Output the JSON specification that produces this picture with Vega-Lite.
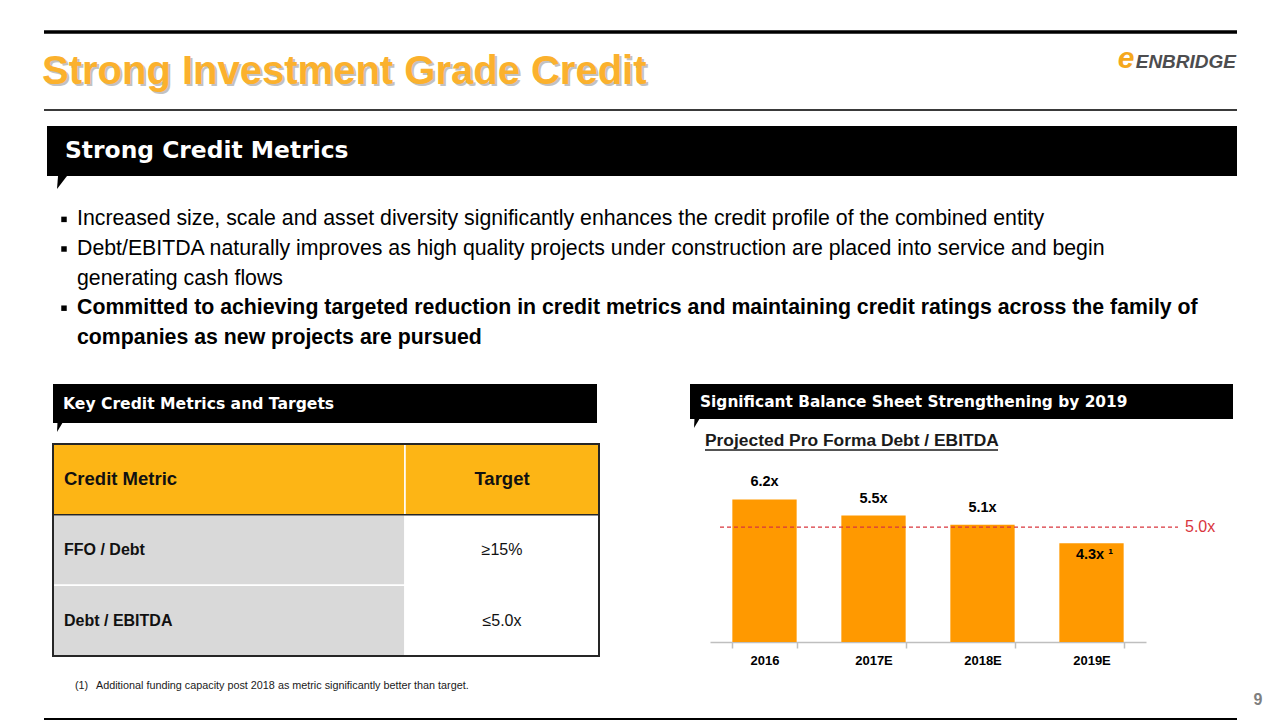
{
  "$schema": "https://vega.github.io/schema/vega-lite/v6.json",
  "background": "white",
  "padding": {"left": 42, "top": 30, "right": 0, "bottom": 0},
  "autosize": {"type": "pad"},
  "spacing": 0,
  "config": {
    "view": {"stroke": null},
    "font": "Liberation Sans"
  },
  "vconcat": [
    {
      "width": 1194,
      "height": 96,
      "layer": [
        {
          "data": {"values": [{"edge": "top"}]},
          "mark": {"type": "rule", "color": "#000000", "strokeWidth": 3.5},
          "encoding": {
            "x": {"datum": 2, "type": "quantitative", "scale": {"domain": [0, 1194], "nice": false}, "axis": null},
            "x2": {"datum": 1195},
            "y": {"datum": 2, "type": "quantitative", "scale": {"domain": [0, 96], "reverse": true, "nice": false}, "axis": null}
          }
        },
        {
          "data": {"values": [{"edge": "bottom"}]},
          "mark": {"type": "rule", "color": "#3A3A3A", "strokeWidth": 2},
          "encoding": {
            "x": {"datum": 2, "type": "quantitative", "scale": {"domain": [0, 1194], "nice": false}, "axis": null},
            "x2": {"datum": 1195},
            "y": {"datum": 80, "type": "quantitative", "scale": {"domain": [0, 96], "reverse": true, "nice": false}, "axis": null}
          }
        },
        {
          "data": {"values": [{"title": "Strong Investment Grade Credit"}]},
          "mark": {"type": "text", "align": "left", "baseline": "middle", "fontSize": 40, "fontWeight": "bold", "color": "#7A7A7A", "opacity": 0.45, "dx": 2, "dy": 2},
          "encoding": {
            "text": {"field": "title"},
            "x": {"datum": 0, "type": "quantitative", "scale": {"domain": [0, 1194], "nice": false}, "axis": null},
            "y": {"datum": 42, "type": "quantitative", "scale": {"domain": [0, 96], "reverse": true, "nice": false}, "axis": null}
          }
        },
        {
          "data": {"values": [{"title": "Strong Investment Grade Credit"}]},
          "mark": {"type": "text", "align": "left", "baseline": "middle", "fontSize": 40, "fontWeight": "bold", "color": "#FBB12D"},
          "encoding": {
            "text": {"field": "title"},
            "x": {"datum": 0, "type": "quantitative", "scale": {"domain": [0, 1194], "nice": false}, "axis": null},
            "y": {"datum": 42, "type": "quantitative", "scale": {"domain": [0, 96], "reverse": true, "nice": false}, "axis": null}
          }
        },
        {
          "data": {"values": [{"swoosh": "e"}]},
          "mark": {"type": "text", "align": "center", "baseline": "middle", "fontSize": 30, "fontWeight": "bold", "fontStyle": "italic", "color": "#F5A81C"},
          "encoding": {
            "text": {"field": "swoosh"},
            "x": {"datum": 1084, "type": "quantitative", "scale": {"domain": [0, 1194], "nice": false}, "axis": null},
            "y": {"datum": 29, "type": "quantitative", "scale": {"domain": [0, 96], "reverse": true, "nice": false}, "axis": null}
          }
        },
        {
          "data": {"values": [{"logo": "ENBRIDGE"}]},
          "mark": {"type": "text", "align": "right", "baseline": "middle", "fontSize": 19, "fontWeight": "bold", "fontStyle": "italic", "color": "#4D4D4F"},
          "encoding": {
            "text": {"field": "logo"},
            "x": {"datum": 1194, "type": "quantitative", "scale": {"domain": [0, 1194], "nice": false}, "axis": null},
            "y": {"datum": 32, "type": "quantitative", "scale": {"domain": [0, 96], "reverse": true, "nice": false}, "axis": null}
          }
        }
      ]
    },
    {
      "width": 1194,
      "height": 50,
      "layer": [
        {
          "data": {"values": [{"box": "banner"}]},
          "mark": {"type": "rect", "color": "#000000"},
          "encoding": {
            "x": {"datum": 5, "type": "quantitative", "scale": {"domain": [0, 1194], "nice": false}, "axis": null},
            "x2": {"datum": 1195}
          }
        },
        {
          "data": {"values": [{"heading": "Strong Credit Metrics"}]},
          "mark": {"type": "text", "align": "left", "baseline": "middle", "font": "DejaVu Sans", "fontSize": 23.4, "fontWeight": "bold", "color": "#FFFFFF"},
          "encoding": {
            "text": {"field": "heading"},
            "x": {"datum": 23, "type": "quantitative", "scale": {"domain": [0, 1194], "nice": false}, "axis": null},
            "y": {"datum": 25, "type": "quantitative", "scale": {"domain": [0, 50], "reverse": true, "nice": false}, "axis": null}
          }
        }
      ]
    },
    {
      "width": 1194,
      "height": 208,
      "data": {
        "values": [
          {"line": 1, "text": "Increased size, scale and asset diversity significantly enhances the credit profile of the combined entity"},
          {"line": 2, "text": "Debt/EBITDA naturally improves as high quality projects under construction are placed into service and begin"},
          {"line": 3, "text": "generating cash flows"},
          {"line": 4, "text": "Committed to achieving targeted reduction in credit metrics and maintaining credit ratings across the family of"},
          {"line": 5, "text": "companies as new projects are pursued"}
        ]
      },
      "layer": [
        {
          "data": {"values": [{"tail": 1}]},
          "mark": {"type": "point", "shape": "M 0.08 0 L 0.77 0 L 0 1 Z", "size": 676, "filled": true, "color": "#000000", "opacity": 1, "strokeWidth": 0},
          "encoding": {
            "x": {"datum": 15, "type": "quantitative", "scale": {"domain": [0, 1194], "nice": false}, "axis": null},
            "y": {"datum": -0.466, "type": "quantitative", "scale": {"domain": [-0.466, 6.561], "reverse": true, "nice": false}, "axis": null}
          }
        },
        {
          "transform": [{"filter": "datum.line <= 3"}],
          "mark": {"type": "text", "align": "left", "baseline": "middle", "fontSize": 21.3, "color": "#000000"},
          "encoding": {
            "text": {"field": "text"},
            "x": {"datum": 35, "type": "quantitative", "scale": {"domain": [0, 1194], "nice": false}, "axis": null},
            "y": {"field": "line", "type": "quantitative", "scale": {"domain": [-0.466, 6.561], "reverse": true, "nice": false}, "axis": null}
          }
        },
        {
          "transform": [{"filter": "datum.line >= 4"}],
          "mark": {"type": "text", "align": "left", "baseline": "middle", "fontSize": 21.3, "fontWeight": "bold", "color": "#000000"},
          "encoding": {
            "text": {"field": "text"},
            "x": {"datum": 35, "type": "quantitative", "scale": {"domain": [0, 1194], "nice": false}, "axis": null},
            "y": {"field": "line", "type": "quantitative", "scale": {"domain": [-0.466, 6.561], "reverse": true, "nice": false}, "axis": null}
          }
        },
        {
          "transform": [{"filter": {"field": "line", "oneOf": [1, 2, 4]}}],
          "mark": {"type": "point", "shape": "square", "size": 30, "filled": true, "color": "#000000", "opacity": 1},
          "encoding": {
            "x": {"datum": 22, "type": "quantitative", "scale": {"domain": [0, 1194], "nice": false}, "axis": null},
            "y": {"field": "line", "type": "quantitative", "scale": {"domain": [-0.466, 6.561], "reverse": true, "nice": false}, "axis": null}
          }
        }
      ]
    },
    {
      "spacing": 90,
      "hconcat": [
        {
          "spacing": 0,
          "hconcat": [
            {
              "width": 10,
              "height": 1,
              "data": {"values": [{"gap": 1}]},
              "mark": {"type": "point", "opacity": 0, "size": 1}
            },
            {
              "spacing": 0,
              "vconcat": [
                {
                  "width": 546,
                  "height": 59,
                  "layer": [
                    {
                      "data": {"values": [{"box": "banner"}]},
                      "mark": {"type": "rect", "color": "#000000"},
                      "encoding": {
                        "x": {"datum": 0, "type": "quantitative", "scale": {"domain": [0, 546], "nice": false}, "axis": null},
                        "x2": {"datum": 544},
                        "y": {"datum": 0, "type": "quantitative", "scale": {"domain": [0, 59], "reverse": true, "nice": false}, "axis": null},
                        "y2": {"datum": 39}
                      }
                    },
                    {
                      "data": {"values": [{"heading": "Key Credit Metrics and Targets"}]},
                      "mark": {"type": "text", "align": "left", "baseline": "middle", "font": "DejaVu Sans", "fontSize": 15.6, "fontWeight": "bold", "color": "#FFFFFF"},
                      "encoding": {
                        "text": {"field": "heading"},
                        "x": {"datum": 10, "type": "quantitative", "scale": {"domain": [0, 546], "nice": false}, "axis": null},
                        "y": {"datum": 20, "type": "quantitative", "scale": {"domain": [0, 59], "reverse": true, "nice": false}, "axis": null}
                      }
                    },
                    {
                      "data": {"values": [{"tail": 1}]},
                      "mark": {"type": "point", "shape": "M 0.05 0 L 0.6 0 L 0 1 Z", "size": 324, "filled": true, "color": "#000000", "opacity": 1, "strokeWidth": 0},
                      "encoding": {
                        "x": {"datum": 4, "type": "quantitative", "scale": {"domain": [0, 546], "nice": false}, "axis": null},
                        "y": {"datum": 39, "type": "quantitative", "scale": {"domain": [0, 59], "reverse": true, "nice": false}, "axis": null}
                      }
                    }
                  ]
                },
                {
                  "width": 546,
                  "height": 212,
                  "data": {
                    "values": [
                      {"metric": "Credit Metric", "target": "Target"},
                      {"metric": "FFO / Debt", "target": "≥15%"},
                      {"metric": "Debt / EBITDA", "target": "≤5.0x"}
                    ]
                  },
                  "layer": [
                    {
                      "mark": {"type": "rect", "stroke": "#FFFFFF", "strokeWidth": 1.5},
                      "encoding": {
                        "y": {"field": "metric", "type": "nominal", "sort": null, "scale": {"paddingInner": 0, "paddingOuter": 0}, "axis": null},
                        "x": {"datum": 0, "type": "quantitative", "scale": {"domain": [0, 546], "nice": false}, "axis": null},
                        "x2": {"datum": 352},
                        "color": {"condition": {"test": "datum.metric === 'Credit Metric'", "value": "#FDB515"}, "value": "#D9D9D9"}
                      }
                    },
                    {
                      "mark": {"type": "rect", "stroke": "#FFFFFF", "strokeWidth": 1.5},
                      "encoding": {
                        "y": {"field": "metric", "type": "nominal", "sort": null, "axis": null},
                        "x": {"datum": 352, "type": "quantitative", "scale": {"domain": [0, 546], "nice": false}, "axis": null},
                        "x2": {"datum": 546},
                        "color": {"condition": {"test": "datum.metric === 'Credit Metric'", "value": "#FDB515"}, "value": "#FFFFFF"}
                      }
                    },
                    {
                      "transform": [{"filter": "datum.metric === 'FFO / Debt'"}],
                      "mark": {"type": "rule", "color": "#262626", "strokeWidth": 1.5},
                      "encoding": {
                        "y": {"field": "metric", "type": "nominal", "sort": null, "bandPosition": 0, "axis": null}
                      }
                    },
                    {
                      "transform": [{"filter": "datum.metric === 'Credit Metric'"}],
                      "mark": {"type": "text", "align": "left", "baseline": "middle", "fontSize": 18.5, "fontWeight": "bold", "color": "#111111"},
                      "encoding": {
                        "text": {"field": "metric"},
                        "x": {"datum": 11, "type": "quantitative", "scale": {"domain": [0, 546], "nice": false}, "axis": null},
                        "y": {"field": "metric", "type": "nominal", "sort": null, "axis": null}
                      }
                    },
                    {
                      "transform": [{"filter": "datum.metric !== 'Credit Metric'"}],
                      "mark": {"type": "text", "align": "left", "baseline": "middle", "fontSize": 16, "fontWeight": "bold", "color": "#111111"},
                      "encoding": {
                        "text": {"field": "metric"},
                        "x": {"datum": 11, "type": "quantitative", "scale": {"domain": [0, 546], "nice": false}, "axis": null},
                        "y": {"field": "metric", "type": "nominal", "sort": null, "axis": null}
                      }
                    },
                    {
                      "transform": [{"filter": "datum.metric === 'Credit Metric'"}],
                      "mark": {"type": "text", "align": "center", "baseline": "middle", "fontSize": 18.5, "fontWeight": "bold", "color": "#111111"},
                      "encoding": {
                        "text": {"field": "target"},
                        "x": {"datum": 449, "type": "quantitative", "scale": {"domain": [0, 546], "nice": false}, "axis": null},
                        "y": {"field": "metric", "type": "nominal", "sort": null, "axis": null}
                      }
                    },
                    {
                      "transform": [{"filter": "datum.metric !== 'Credit Metric'"}],
                      "mark": {"type": "text", "align": "center", "baseline": "middle", "fontSize": 16, "color": "#111111"},
                      "encoding": {
                        "text": {"field": "target"},
                        "x": {"datum": 449, "type": "quantitative", "scale": {"domain": [0, 546], "nice": false}, "axis": null},
                        "y": {"field": "metric", "type": "nominal", "sort": null, "axis": null}
                      }
                    },
                    {
                      "data": {"values": [{"frame": 1}]},
                      "mark": {"type": "rect", "fillOpacity": 0, "stroke": "#262626", "strokeWidth": 2},
                      "encoding": {
                        "x": {"datum": 0, "type": "quantitative", "scale": {"domain": [0, 546], "nice": false}, "axis": null},
                        "x2": {"datum": 546}
                      }
                    }
                  ]
                },
                {
                  "width": 546,
                  "height": 34,
                  "data": {"values": [{"marker": "(1)", "note": "Additional funding capacity post 2018 as metric significantly better than target."}]},
                  "layer": [
                    {
                      "mark": {"type": "text", "align": "left", "baseline": "middle", "fontSize": 10.8, "color": "#1A1A1A"},
                      "encoding": {
                        "text": {"field": "marker"},
                        "x": {"datum": 22, "type": "quantitative", "scale": {"domain": [0, 546], "nice": false}, "axis": null},
                        "y": {"datum": 28.5, "type": "quantitative", "scale": {"domain": [0, 34], "reverse": true, "nice": false}, "axis": null}
                      }
                    },
                    {
                      "mark": {"type": "text", "align": "left", "baseline": "middle", "fontSize": 10.8, "color": "#1A1A1A"},
                      "encoding": {
                        "text": {"field": "note"},
                        "x": {"datum": 43, "type": "quantitative", "scale": {"domain": [0, 546], "nice": false}, "axis": null},
                        "y": {"datum": 28.5, "type": "quantitative", "scale": {"domain": [0, 34], "reverse": true, "nice": false}, "axis": null}
                      }
                    }
                  ]
                }
              ]
            }
          ]
        },
        {
          "spacing": 0,
          "vconcat": [
            {
              "width": 543,
              "height": 81,
              "layer": [
                {
                  "data": {"values": [{"box": "banner"}]},
                  "mark": {"type": "rect", "color": "#000000"},
                  "encoding": {
                    "x": {"datum": 0, "type": "quantitative", "scale": {"domain": [0, 543], "nice": false}, "axis": null},
                    "x2": {"datum": 543},
                    "y": {"datum": 0, "type": "quantitative", "scale": {"domain": [0, 81], "reverse": true, "nice": false}, "axis": null},
                    "y2": {"datum": 35}
                  }
                },
                {
                  "data": {"values": [{"heading": "Significant Balance Sheet Strengthening by 2019"}]},
                  "mark": {"type": "text", "align": "left", "baseline": "middle", "font": "DejaVu Sans", "fontSize": 15.4, "fontWeight": "bold", "color": "#FFFFFF"},
                  "encoding": {
                    "text": {"field": "heading"},
                    "x": {"datum": 10, "type": "quantitative", "scale": {"domain": [0, 543], "nice": false}, "axis": null},
                    "y": {"datum": 17.5, "type": "quantitative", "scale": {"domain": [0, 81], "reverse": true, "nice": false}, "axis": null}
                  }
                },
                {
                  "data": {"values": [{"tail": 1}]},
                  "mark": {"type": "point", "shape": "M 0.05 0 L 0.6 0 L 0 1 Z", "size": 324, "filled": true, "color": "#000000", "opacity": 1, "strokeWidth": 0},
                  "encoding": {
                    "x": {"datum": 4, "type": "quantitative", "scale": {"domain": [0, 543], "nice": false}, "axis": null},
                    "y": {"datum": 35, "type": "quantitative", "scale": {"domain": [0, 81], "reverse": true, "nice": false}, "axis": null}
                  }
                },
                {
                  "data": {"values": [{"subtitle": "Projected Pro Forma Debt / EBITDA"}]},
                  "mark": {"type": "text", "align": "left", "baseline": "middle", "fontSize": 17.4, "fontWeight": "bold", "color": "#1A1A1A"},
                  "encoding": {
                    "text": {"field": "subtitle"},
                    "x": {"datum": 15, "type": "quantitative", "scale": {"domain": [0, 543], "nice": false}, "axis": null},
                    "y": {"datum": 57, "type": "quantitative", "scale": {"domain": [0, 81], "reverse": true, "nice": false}, "axis": null}
                  }
                },
                {
                  "data": {"values": [{"underline": 1}]},
                  "mark": {"type": "rule", "color": "#1A1A1A", "strokeWidth": 1.5},
                  "encoding": {
                    "x": {"datum": 15, "type": "quantitative", "scale": {"domain": [0, 543], "nice": false}, "axis": null},
                    "x2": {"datum": 308},
                    "y": {"datum": 66, "type": "quantitative", "scale": {"domain": [0, 81], "reverse": true, "nice": false}, "axis": null}
                  }
                }
              ]
            },
            {
              "spacing": 0,
              "hconcat": [
                {
                  "width": 20,
                  "height": 1,
                  "data": {"values": [{"gap": 1}]},
                  "mark": {"type": "point", "opacity": 0, "size": 1}
                },
                {
                  "width": 436,
                  "height": 177,
                  "resolve": {"scale": {"x": "independent"}},
                  "layer": [
                    {
                      "data": {
                        "values": [
                          {"year": "2016", "value": 6.2, "label": "6.2x"},
                          {"year": "2017E", "value": 5.5, "label": "5.5x"},
                          {"year": "2018E", "value": 5.1, "label": "5.1x"},
                          {"year": "2019E", "value": 4.3, "label": "4.3x ¹"}
                        ]
                      },
                      "layer": [
                        {
                          "mark": {"type": "bar", "color": "#FF9900"},
                          "encoding": {
                            "x": {
                              "field": "year", "type": "nominal", "sort": null,
                              "scale": {"paddingInner": 0.41, "paddingOuter": 0.205},
                              "axis": {"title": null, "labelAngle": 0, "labelFontSize": 13, "labelFontWeight": "bold", "labelColor": "#000000", "domainColor": "#BFBFBF", "domainWidth": 1.5, "tickColor": "#BFBFBF", "tickSize": 6, "tickWidth": 1.5, "tickBand": "extent", "labelPadding": 6}
                            },
                            "y": {"field": "value", "type": "quantitative", "scale": {"domain": [0, 7.7], "nice": false}, "axis": null}
                          }
                        },
                        {
                          "transform": [{"filter": "datum.year !== '2019E'"}],
                          "mark": {"type": "text", "baseline": "middle", "dy": -17, "fontSize": 14.5, "fontWeight": "bold", "color": "#000000"},
                          "encoding": {
                            "x": {"field": "year", "type": "nominal", "sort": null},
                            "y": {"field": "value", "type": "quantitative"},
                            "text": {"field": "label"}
                          }
                        },
                        {
                          "transform": [{"filter": "datum.year === '2019E'"}],
                          "mark": {"type": "text", "baseline": "middle", "dy": 12, "dx": 3, "fontSize": 14.5, "fontWeight": "bold", "color": "#000000"},
                          "encoding": {
                            "x": {"field": "year", "type": "nominal", "sort": null},
                            "y": {"field": "value", "type": "quantitative"},
                            "text": {"field": "label"}
                          }
                        }
                      ]
                    },
                    {
                      "data": {"values": [{"target": 5, "tag": "5.0x"}]},
                      "layer": [
                        {
                          "mark": {"type": "rule", "color": "#D9363E", "strokeDash": [4, 3], "strokeWidth": 1.2},
                          "encoding": {
                            "x": {"datum": 10, "type": "quantitative", "scale": {"domain": [0, 436], "nice": false}, "axis": null},
                            "x2": {"datum": 468},
                            "y": {"field": "target", "type": "quantitative"}
                          }
                        },
                        {
                          "mark": {"type": "text", "align": "left", "baseline": "middle", "fontSize": 16, "color": "#D9363E"},
                          "encoding": {
                            "x": {"datum": 475, "type": "quantitative", "scale": {"domain": [0, 436], "nice": false}, "axis": null},
                            "y": {"field": "target", "type": "quantitative"},
                            "text": {"field": "tag"}
                          }
                        }
                      ]
                    }
                  ]
                }
              ]
            }
          ]
        }
      ]
    },
    {
      "width": 1194,
      "height": 31,
      "layer": [
        {
          "data": {"values": [{"edge": "bottom"}]},
          "mark": {"type": "rule", "color": "#000000", "strokeWidth": 3},
          "encoding": {
            "x": {"datum": 2, "type": "quantitative", "scale": {"domain": [0, 1194], "nice": false}, "axis": null},
            "x2": {"datum": 1195},
            "y": {"datum": 28.5, "type": "quantitative", "scale": {"domain": [0, 31], "reverse": true, "nice": false}, "axis": null}
          }
        },
        {
          "data": {"values": [{"page": "9"}]},
          "mark": {"type": "text", "align": "center", "baseline": "middle", "fontSize": 16, "fontWeight": "bold", "color": "#7F7F7F"},
          "encoding": {
            "text": {"field": "page"},
            "x": {"datum": 1216, "type": "quantitative", "scale": {"domain": [0, 1194], "nice": false}, "axis": null},
            "y": {"datum": 9, "type": "quantitative", "scale": {"domain": [0, 31], "reverse": true, "nice": false}, "axis": null}
          }
        }
      ]
    }
  ]
}
